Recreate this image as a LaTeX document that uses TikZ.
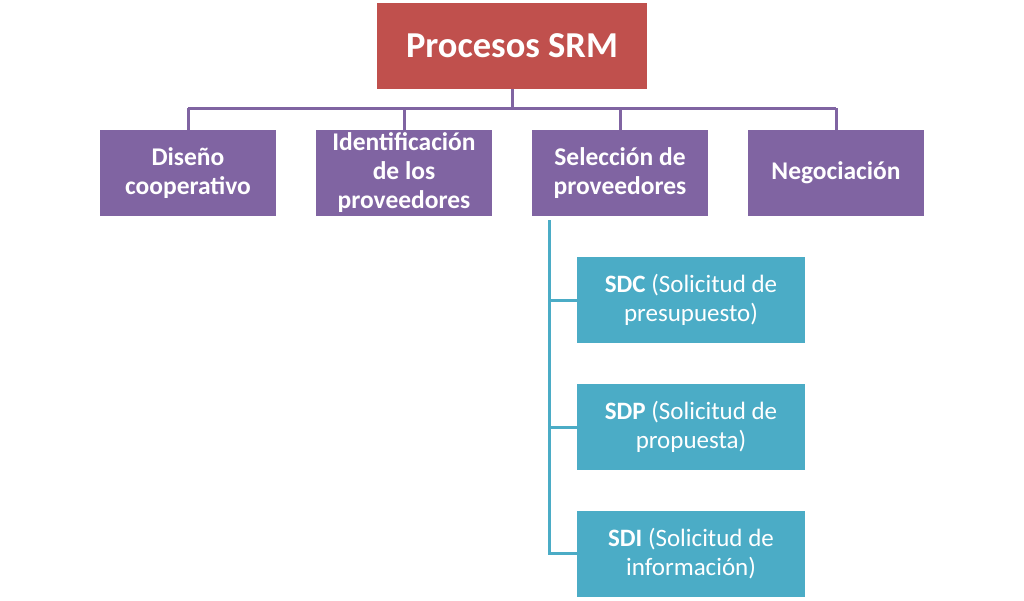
\documentclass[tikz,border=0pt]{standalone}
\usepackage{fontspec}
\setmainfont{Carlito}
\definecolor{srmred}{HTML}{C0504D}
\definecolor{srmpurple}{HTML}{8064A2}
\definecolor{srmteal}{HTML}{4BACC6}
\begin{document}
\begin{tikzpicture}[x=1pt,y=-1pt,
  topbox/.style={rectangle,fill=srmred,text=white,minimum width=270pt,minimum height=86pt,inner sep=0pt,
    font=\fontsize{36.5}{42}\selectfont\bfseries,align=center},
  pbox/.style={rectangle,fill=srmpurple,text=white,minimum width=176pt,minimum height=86pt,inner sep=0pt,
    font=\fontsize{25.5}{29}\selectfont\bfseries,align=center},
  tbox/.style={rectangle,fill=srmteal,text=white,minimum width=228pt,minimum height=86pt,inner sep=0pt,
    font=\fontsize{25}{29}\selectfont,align=center},
  pline/.style={draw=srmpurple,line width=3pt},
  tline/.style={draw=srmteal,line width=3pt}]
\useasboundingbox (0,0) rectangle (1024,600);
\fill[white] (0,0) rectangle (1024,600);

\node[topbox] (top) at (512,46) {Procesos SRM};
\node[pbox] (d1) at (188,173) {Diseño\\cooperativo};
\node[pbox] (d2) at (404,173) {Identificación\\de los\\proveedores};
\node[pbox] (d3) at (620,173) {Selección de\\proveedores};
\node[pbox] (d4) at (836,173) {Negociación};

\node[tbox] (s1) at (691,300) {\textbf{SDC} (Solicitud de\\presupuesto)};
\node[tbox] (s2) at (691,427) {\textbf{SDP} (Solicitud de\\propuesta)};
\node[tbox] (s3) at (691,553.5) {\textbf{SDI} (Solicitud de\\información)};

\coordinate (bus) at (0,108);
\coordinate (spine) at (549,220);

\draw[pline] (top.south) -- (top.south |- bus);
\draw[pline] (d1.north |- bus) -- (d4.north |- bus);
\foreach \n in {d1,d2,d3,d4} \draw[pline] (\n.north |- bus) -- (\n.north);

\draw[tline] (spine) |- (s3.west);
\draw[tline] (spine |- s1.west) -- (s1.west);
\draw[tline] (spine |- s2.west) -- (s2.west);
\end{tikzpicture}
\end{document}
